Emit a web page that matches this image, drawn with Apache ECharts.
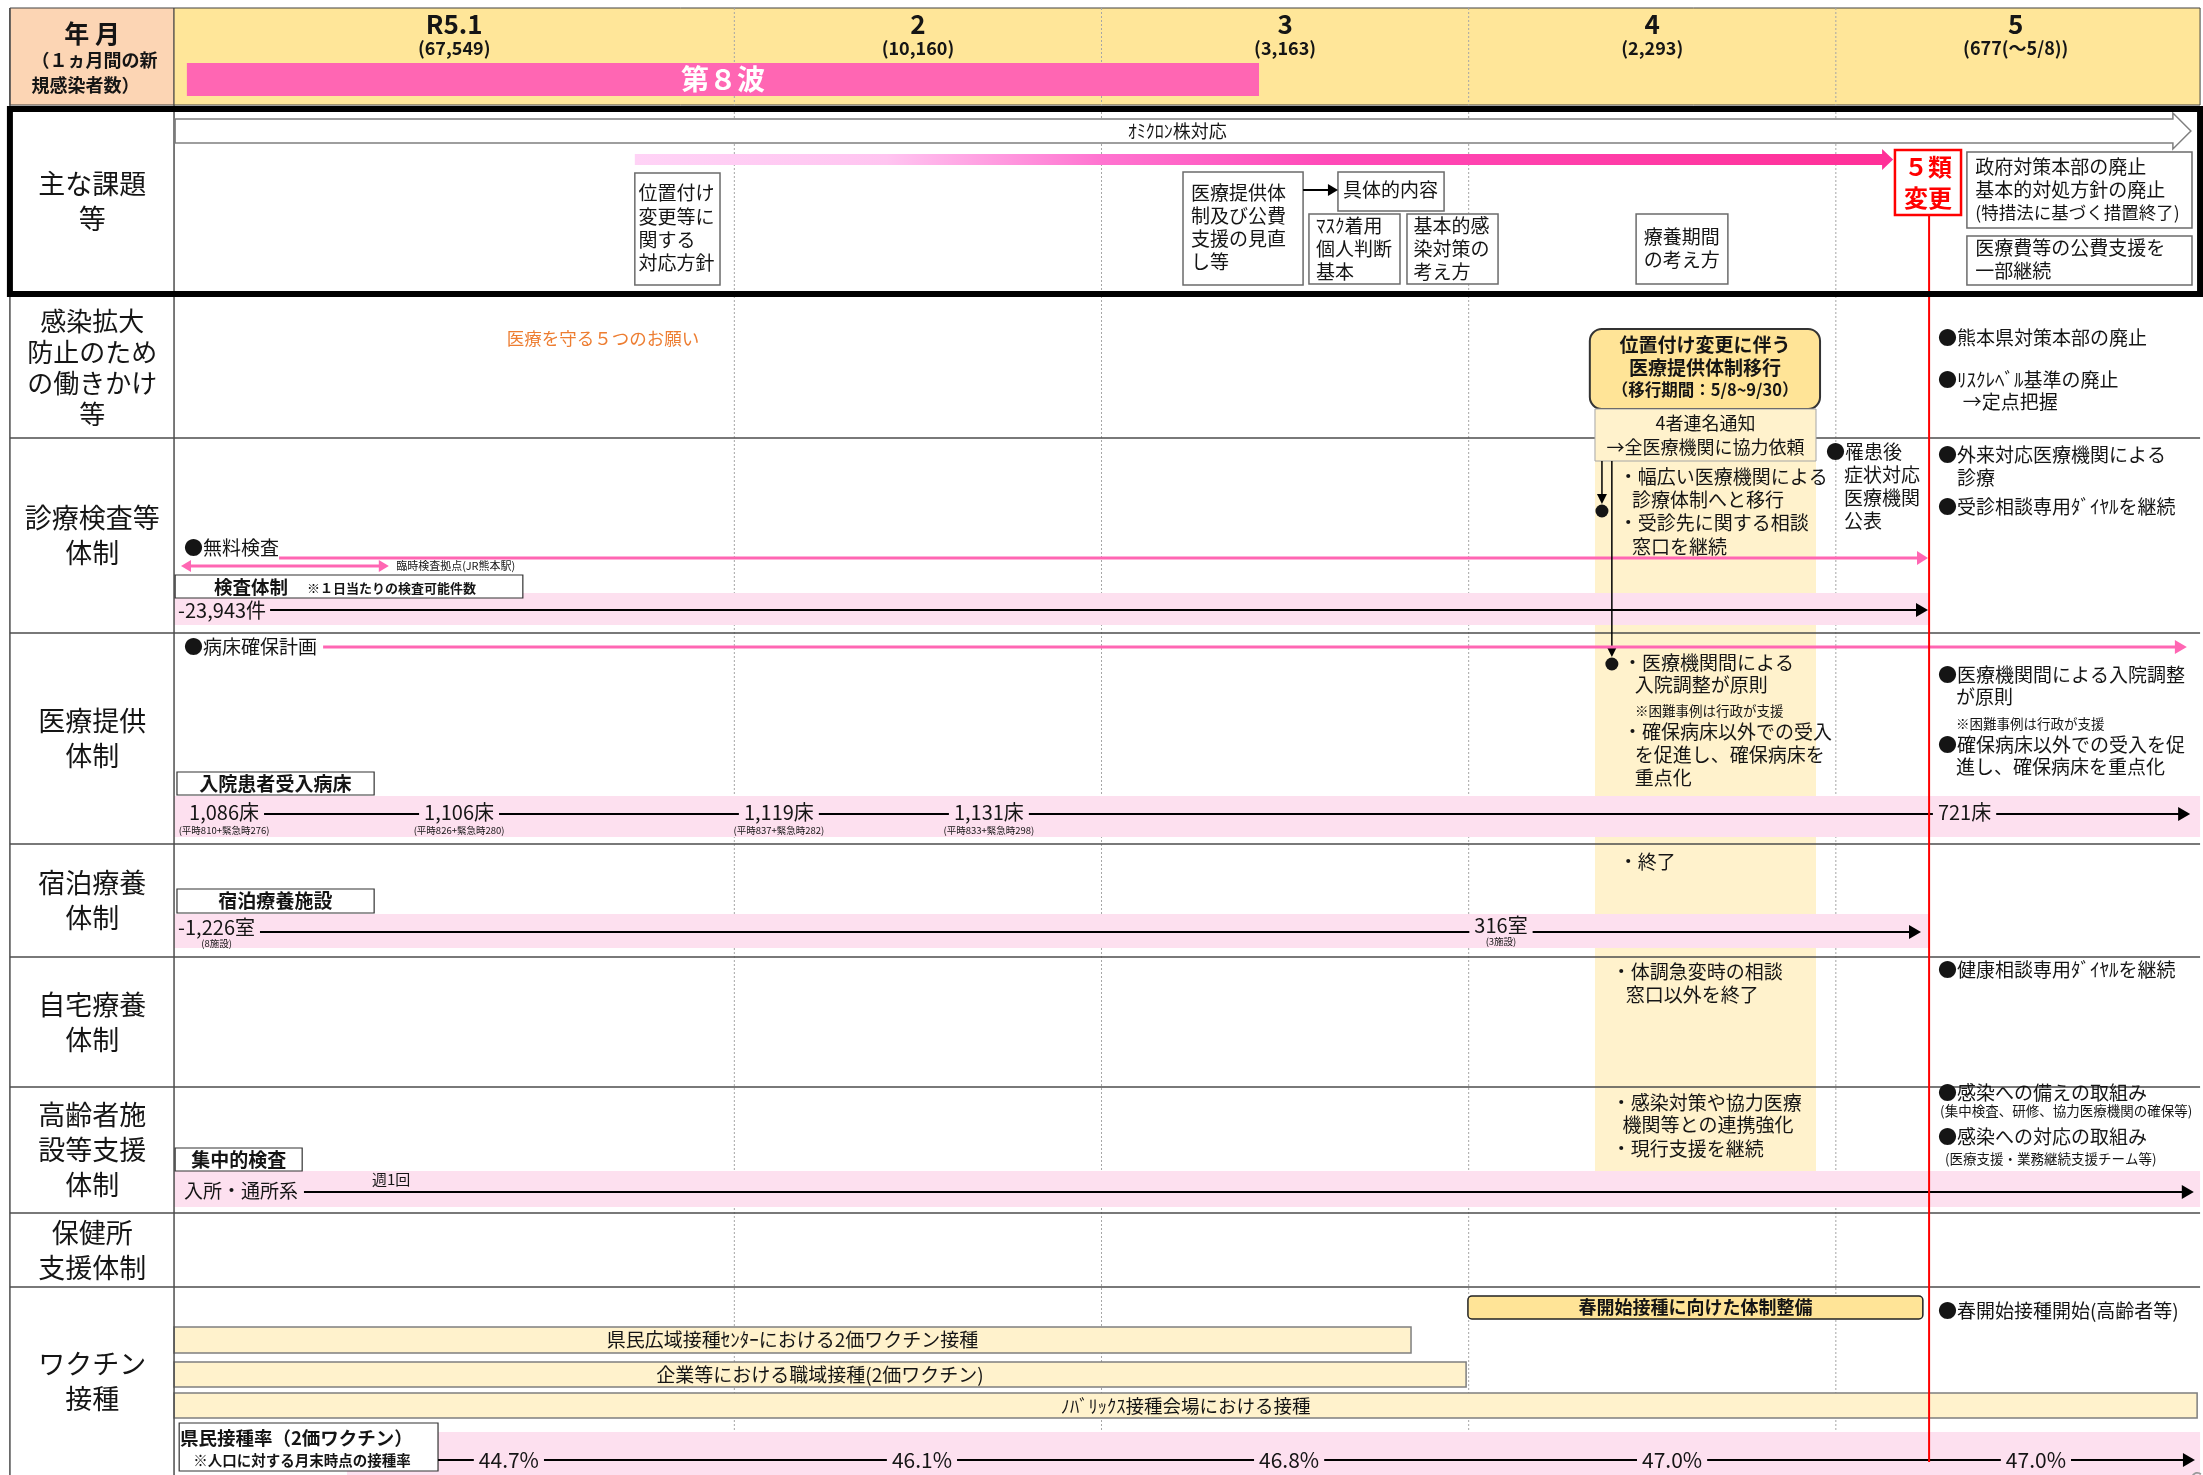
<!DOCTYPE html>
<html><head><meta charset="utf-8">
<script src="https://cdn.jsdelivr.net/npm/echarts/dist/echarts.min.js"></script>
<style>html,body{margin:0;padding:0;background:#fff}#c{width:2203px;height:1475px}</style>
</head><body><div id="c"></div>
<script>
const FONT = '"Noto Sans CJK JP","Noto Sans",sans-serif';
const TXT = '#151515';

// ---------------- data ----------------
const monthLabels = ['R5.1', '2', '3', '4', '5'];
const monthCenters = [1.237, 2.5, 3.5, 4.5, 5.49];
const monthlyNewCases = ['67,549', '10,160', '3,163', '2,293', '677(～5/8)'];
const monthStarts = [2, 3, 4, 5];
const rowLabels = ['主な課題\n等', '感染拡大\n防止のため\nの働きかけ\n等', '診療検査等\n体制', '医療提供\n体制', '宿泊療養\n体制', '自宅療養\n体制', '高齢者施\n設等支援\n体制', '保健所\n支援体制', 'ワクチン\n接種'];
const rowBounds = [106, 297, 438, 633, 844, 957, 1087, 1213, 1287, 1475];
const wave8 = [0.509, 3.429];
const reclassDate = 5.254; // 5/8
const testCapacity = 23943;
const bedDates = [0.515, 1.155, 2.026, 2.598, 5.278];
const bedCounts = [1086, 1106, 1119, 1131, 721];
const bedNormal = [810, 826, 837, 833, null];
const bedEmergency = [276, 280, 282, 298, null];
const roomDates = [0.485, 4.088];
const roomCounts = [1226, 316];
const roomFacilities = [8, 3];
const rateDates = [1.386, 2.511, 3.511, 4.554, 5.545];
const vaccinationRates = [44.7, 46.1, 46.8, 47.0, 47.0];
const vaccineSites = ['県民広域接種ｾﾝﾀｰにおける2価ワクチン接種', '企業等における職域接種(2価ワクチン)', 'ﾉﾊﾞﾘｯｸｽ接種会場における接種'];
const vaccineSiteEnd = [3.843, 3.993, 5.984];
const vaccineRows = [[1327, 1353], [1362, 1387], [1393, 1418]];

const C = {peach:'#FCD5B4', hdr:'#FFE699', wave:'#FF66B3', band:'#FDE0EF', cream:'#FFF2CC', gold:'#FFE497', pink:'#FF66B3', red:'#FF0000', grid:'#4d4d4d', dot:'#A6A6A6', orange:'#ED7D31', box:'#6b6b6b'};
const fmt = n => n.toLocaleString('en-US');

// ---------------- element list ----------------
const items = [];
const add = o => items.push(o);
const rect = (x1,y1,x2,y2,o={}) => add({t:'rect',x1,y1,x2,y2,...o});
const text = (x,y,s,o={}) => add({t:'text',x,y,s,...o});
const line = (pts,o={}) => add({t:'line',pts,...o});
const poly = (pts,o={}) => add({t:'poly',pts,...o});
const dot = (x,y,o={}) => add({t:'dot',x,y,...o});
const vline = o => add({t:'vline',...o});
const B = {bold:1}, CT = {align:'center'}, BC = {bold:1, align:'center'};

// header
rect(0.027,8,0.474,105,{fill:C.peach,stroke:'#404040',lw:1});
rect(0.474,8,5.992,105,{fill:C.hdr,stroke:'#404040',lw:1});
monthStarts.forEach(m => line([[m,8],[m,1475]],{stroke:C.dot,lw:1,dash:[2,2]}));
rect(wave8[0],63,wave8[1],96,{fill:C.wave});
text((wave8[0]+wave8[1])/2,79,'第８波',{size:28,bold:1,color:'#fff',align:'center'});
text(0.251,33,'年 月',{size:25,...BC});
text(0.086,60,'（１ヵ月間の新',{size:18,...B});
text(0.086,85,'規感染者数）',{size:18,...B});
monthLabels.forEach((m,i)=>{
  text(monthCenters[i],24,m,{size:26,...BC});
  text(monthCenters[i],48,'('+monthlyNewCases[i]+')',{size:18,...BC});
});

// bands / bars
rect(4.344,461,4.946,1171,{fill:C.cream});
rect(0.474,593,reclassDate,625,{fill:C.band});
rect(0.474,796,5.992,837,{fill:C.band});
rect(0.474,914,reclassDate,948,{fill:C.band});
rect(0.474,1171,5.992,1207,{fill:C.band});
rect(0.945,1432,5.992,1475,{fill:C.band});
vaccineSites.forEach((s,i)=>{
  rect(0.474,vaccineRows[i][0],vaccineSiteEnd[i],vaccineRows[i][1],{fill:C.cream,stroke:'#7F7F7F',lw:1.5});
  text((0.474+vaccineSiteEnd[i])/2,(vaccineRows[i][0]+vaccineRows[i][1])/2,s,{size:i===2?18.5:19,align:'center'});
});

// grid lines
rowBounds.slice(2,9).forEach(y => line([[0.027,y],[5.992,y]],{stroke:C.grid,lw:1.5}));
line([[0.027,8],[0.027,1475]],{stroke:C.grid,lw:1.5});
line([[0.474,105],[0.474,1475]],{stroke:C.grid,lw:1.5});

// row labels
rowLabels.forEach((lab,i)=>{
  const ls = lab.split('\n'), n = ls.length, lh = n>=4?31:35, size = n>=4?26:27;
  const c = (rowBounds[i]+rowBounds[i+1])/2;
  ls.forEach((s,j)=>text(0.251,c-(n-1)*lh/2+j*lh,s,{size,align:'center'}));
});

// 主な課題等
poly([[0.477,119],[5.918,119],[5.918,113],[5.967,131],[5.918,149],[5.918,143],[0.477,143]],{fill:'#fff',stroke:'#7F7F7F',lw:1.5});
text(3.206,131,'ｵﾐｸﾛﾝ株対応',{size:18,align:'center'});
poly([[1.729,154],[5.126,154],[5.126,149],[5.156,159.5],[5.126,170],[5.126,165],[1.729,165]],
  {grad:[{offset:0,color:'#FFD3F6'},{offset:0.2,color:'#FFC4F0'},{offset:0.37,color:'#FF74D0'},{offset:0.55,color:'#FF4AB8'},{offset:1,color:'#FF2F97'}]});
const boxed = (x1,y1,x2,y2,lines,tx,ty,lh,o={}) => {
  rect(x1,y1,x2,y2,{fill:'#fff',stroke:C.box,lw:1.5});
  lines.forEach((s,j)=>text(tx,ty+j*lh,s,{size:19,...o}));
};
boxed(1.729,173,1.961,285,['位置付け','変更等に','関する','対応方針'],1.739,193,23.3);
boxed(3.222,172,3.549,285,['医療提供体','制及び公費','支援の見直','し等'],3.244,193,23);
boxed(3.644,172,3.933,211,['具体的内容'],3.658,190,23);
line([[3.549,190],[3.644,190]],{stroke:'#000',lw:2,arrowEnd:1,al:10,aw:6});
boxed(3.565,214,3.813,284,['ﾏｽｸ着用','個人判断','基本'],3.584,226,23);
boxed(3.832,214,4.080,284,['基本的感','染対策の','考え方'],3.850,226,23);
boxed(4.456,214,4.706,284,['療養期間','の考え方'],4.477,237,23);
boxed(5.357,152,5.970,228,['政府対策本部の廃止','基本的対処方針の廃止'],5.380,167,23);
text(5.380,212,'(特措法に基づく措置終了)',{size:17.5});
boxed(5.357,236,5.970,285,['医療費等の公費支援を','一部継続'],5.380,248,23);
rect(5.161,150,5.341,215,{fill:'#fff',stroke:C.red,lw:2.5});
text(5.251,167,'５類',{size:24,bold:1,color:C.red,align:'center'});
text(5.251,198,'変更',{size:24,bold:1,color:C.red,align:'center'});

// 感染拡大防止
text(1.642,338,'医療を守る５つのお願い',{size:17.5,color:C.orange,align:'center'});
rect(4.330,329,4.957,409,{fill:C.gold,stroke:'#333',lw:2,r:12});
text(4.644,345,'位置付け変更に伴う',{size:19,...BC});
text(4.644,368,'医療提供体制移行',{size:19,...BC});
text(4.644,390,'（移行期間：5/8~9/30）',{size:16.5,...BC});
rect(4.344,409,4.946,461,{fill:C.cream,stroke:'#A6A6A6',lw:1});
text(4.645,423,'4者連名通知',{size:18,...CT});
text(4.645,447,'→全医療機関に協力依頼',{size:18,...CT});
text(5.278,338,'●熊本県対策本部の廃止');
text(5.278,380,'●ﾘｽｸﾚﾍﾞﾙ基準の廃止');
text(5.346,402,'→定点把握');

// 診療検査等体制
text(0.501,548,'●無料検査');
line([[0.760,558],[5.251,558]],{stroke:C.pink,lw:3,arrowEnd:1,al:11,aw:7});
line([[0.493,566],[1.059,566]],{stroke:C.pink,lw:3,arrowEnd:1,arrowStart:1,al:10,aw:6});
text(1.079,566,'臨時検査拠点(JR熊本駅)',{size:11});
rect(0.477,575,1.424,598,{fill:'#fff',stroke:'#333',lw:1.2});
text(0.583,587,'検査体制',{size:18.5,...B});
text(0.836,588,'※１日当たりの検査可能件数',{size:13,...B});
vline({y:610,gap:4,labels:[{x:0.485,s:'-'+fmt(testCapacity)+'件',size:20}],end:5.251,arrow:1});
line([[4.363,461],[4.363,504]],{stroke:'#000',lw:1.5,arrowEnd:1,al:10,aw:5});
dot(4.363,511,{r:6.5});
line([[4.390,461],[4.390,657]],{stroke:'#000',lw:1.5,arrowEnd:1,al:10,aw:5});
dot(4.390,664,{r:6.5});
text(4.409,477,'・幅広い医療機関による');
text(4.445,500,'診療体制へと移行');
text(4.409,523,'・受診先に関する相談');
text(4.445,547,'窓口を継続');
text(4.973,452,'●罹患後');
['症状対応','医療機関','公表'].forEach((s,j)=>text(5.022,475+j*23,s));
text(5.278,455,'●外来対応医療機関による');
text(5.330,478,'診療');
text(5.278,507,'●受診相談専用ﾀﾞｲﾔﾙを継続');

// 医療提供体制
text(0.501,647,'●病床確保計画');
line([[0.880,647],[5.956,647]],{stroke:C.pink,lw:3,arrowEnd:1,al:12,aw:7});
text(4.420,663,'・医療機関間による');
text(4.452,685,'入院調整が原則');
text(4.453,711,'※困難事例は行政が支援',{size:13.5});
text(4.420,732,'・確保病床以外での受入');
text(4.452,755,'を促進し、確保病床を');
text(4.452,778,'重点化');
text(5.278,675,'●医療機関間による入院調整');
text(5.327,697,'が原則');
text(5.327,724,'※困難事例は行政が支援',{size:13.5});
text(5.278,745,'●確保病床以外での受入を促');
text(5.327,767,'進し、確保病床を重点化');
rect(0.482,772,1.019,795,{fill:'#fff',stroke:'#333',lw:1.2});
text(0.750,783.5,'入院患者受入病床',{size:19,...BC});
vline({y:814,gap:5,end:5.965,arrow:1,labels:bedDates.map((x,i)=>({x,s:fmt(bedCounts[i])+'床',size:20,dy:-2,
  sub:bedNormal[i]!=null?`(平時${bedNormal[i]}+緊急時${bedEmergency[i]})`:null,subDy:18}))});

// 宿泊療養体制
text(4.409,862,'・終了');
rect(0.482,889,1.019,913,{fill:'#fff',stroke:'#333',lw:1.2});
text(0.750,901,'宿泊療養施設',{size:19,...BC});
vline({y:932,gap:5,end:5.232,arrow:1,labels:roomDates.map((x,i)=>({x,align:i?'center':'left',
  s:(i?'':'-')+fmt(roomCounts[i])+'室',size:20,dy:i?-7:-5,sub:`(${roomFacilities[i]}施設)`,subDy:16}))});

// 自宅療養体制
text(4.390,972,'・体調急変時の相談');
text(4.428,995,'窓口以外を終了');
text(5.278,970,'●健康相談専用ﾀﾞｲﾔﾙを継続');

// 高齢者施設等支援体制
text(4.390,1103,'・感染対策や協力医療');
text(4.419,1125,'機関等との連携強化');
text(4.390,1149,'・現行支援を継続');
text(5.278,1093,'●感染への備えの取組み');
text(5.284,1111,'(集中検査、研修、協力医療機関の確保等)',{size:13.5});
text(5.278,1137,'●感染への対応の取組み');
text(5.297,1159,'(医療支援・業務継続支援チーム等)',{size:13.5});
rect(0.477,1148,0.823,1171,{fill:'#fff',stroke:'#333',lw:1.2});
text(0.650,1159.5,'集中的検査',{size:19,...BC});
text(1.013,1179,'週1回',{size:15});
vline({y:1192,gap:6,end:5.975,arrow:1,labels:[{x:0.501,s:'入所・通所系',size:19,dy:-1}]});

// ワクチン接種
rect(3.998,1296,5.237,1319,{fill:C.gold,stroke:'#222',lw:1.5,r:4});
text(4.618,1307.5,'春開始接種に向けた体制整備',{size:18,...BC});
text(5.278,1311,'●春開始接種開始(高齢者等)');
rect(0.488,1423,1.193,1471,{fill:'#fff',stroke:'#333',lw:1.2});
text(0.490,1438,'県民接種率（2価ワクチン）',{size:18.5,...B});
text(0.526,1460,'※人口に対する月末時点の接種率',{size:14.5,...B});
vline({y:1460,gap:5,start:1.193,end:5.978,arrow:1,labels:rateDates.map((x,i)=>({x,align:'center',s:vaccinationRates[i].toFixed(1)+'%',size:21}))});
text(5.963,1480,'6',{size:24,color:'#999'});

// red line for 5類変更 and thick border
line([[reclassDate,215],[reclassDate,1462]],{stroke:C.red,lw:2});
rect(0.027,109,5.992,294,{fill:'none',stroke:'#000',lw:6});

// ---------------- rendering ----------------
const mctx = document.createElement('canvas').getContext('2d');
const fontStr = (size,bold) => `${bold?'bold ':''}${size}px ${FONT}`;
const tw = (s,f) => { mctx.font = f; return mctx.measureText(s).width; };

function arrowHead(from,to,L,W,color){
  const dx=to[0]-from[0], dy=to[1]-from[1], len=Math.hypot(dx,dy)||1, ux=dx/len, uy=dy/len;
  const bx=to[0]-ux*L, by=to[1]-uy*L;
  return {type:'polygon',shape:{points:[[to[0],to[1]],[bx-uy*W,by+ux*W],[bx+uy*W,by-ux*W]]},style:{fill:color}};
}
function lineEls(pts,o){
  const els=[], p=pts.map(q=>q.slice()), L=o.al||12, W=o.aw||6, n=p.length;
  const heads=[];
  const shorten=(a,b)=>{const d=Math.hypot(b[0]-a[0],b[1]-a[1])||1;return [b[0]-(b[0]-a[0])/d*L*0.6,b[1]-(b[1]-a[1])/d*L*0.6];};
  if(o.arrowEnd){heads.push(arrowHead(pts[n-2],pts[n-1],L,W,o.stroke)); p[n-1]=shorten(pts[n-2],pts[n-1]);}
  if(o.arrowStart){heads.push(arrowHead(pts[1],pts[0],L,W,o.stroke)); p[0]=shorten(pts[1],pts[0]);}
  els.push({type:'polyline',shape:{points:p},style:{stroke:o.stroke,lineWidth:o.lw||1,lineDash:o.dash||null,fill:null}});
  return els.concat(heads);
}
function setZ(el,z){ if(el.children) el.children.forEach(c=>setZ(c,z)); else el.z2=z; }

function renderItem(params, api){
  const idx = api.value(2), it = items[idx];
  const P = (x,y) => api.coord([x,y]);
  let el;
  if(it.t==='rect'){
    const a=P(it.x1,it.y1), b=P(it.x2,it.y2);
    el={type:'rect',shape:{x:a[0],y:a[1],width:b[0]-a[0],height:b[1]-a[1],r:it.r||0},
        style:{fill:it.fill||'none',stroke:it.stroke||null,lineWidth:it.lw||0}};
  } else if(it.t==='text'){
    const p=P(it.x,it.y);
    el={type:'text',style:{text:it.s,x:p[0],y:p[1],font:fontStr(it.size||19,it.bold),fill:it.color||TXT,align:it.align||'left',verticalAlign:'middle'}};
  } else if(it.t==='line'){
    el={type:'group',children:lineEls(it.pts.map(q=>P(q[0],q[1])),it)};
  } else if(it.t==='poly'){
    const fill = it.grad ? {type:'linear',x:0,y:0,x2:1,y2:0,colorStops:it.grad} : it.fill;
    el={type:'polygon',shape:{points:it.pts.map(q=>P(q[0],q[1]))},style:{fill,stroke:it.stroke||null,lineWidth:it.lw||0}};
  } else if(it.t==='dot'){
    const p=P(it.x,it.y);
    el={type:'circle',shape:{cx:p[0],cy:p[1],r:it.r||6},style:{fill:it.color||TXT}};
  } else if(it.t==='vline'){
    const ch=[], py=P(0,it.y)[1], gap=it.gap==null?5:it.gap;
    let cursor = it.start!=null ? P(it.start,it.y)[0] : null;
    it.labels.forEach(lb=>{
      const f=fontStr(lb.size||20,lb.bold), w=tw(lb.s,f), cx=P(lb.x,it.y)[0];
      const left = lb.align==='center' ? cx-w/2 : cx;
      if(cursor!=null && left-gap>cursor) ch.push(...lineEls([[cursor,py],[left-gap,py]],{stroke:'#000',lw:2}));
      ch.push({type:'text',style:{text:lb.s,x:left,y:py+(lb.dy||0),font:f,fill:TXT,align:'left',verticalAlign:'middle'}});
      if(lb.sub) ch.push({type:'text',style:{text:lb.sub,x:left+w/2,y:py+(lb.dy||0)+(lb.subDy||17),font:fontStr(9.5),fill:TXT,align:'center',verticalAlign:'middle'}});
      cursor = left+w+gap;
    });
    const ex=P(it.end,it.y)[0];
    ch.push(...lineEls([[cursor,py],[ex,py]],{stroke:'#000',lw:2,arrowEnd:it.arrow,al:12,aw:7}));
    el={type:'group',children:ch};
  }
  setZ(el, idx);
  return el;
}

const chart = echarts.init(document.getElementById('c'), null, {renderer:'canvas'});
chart.setOption({
  animation:false,
  backgroundColor:'#fff',
  grid:{left:0,right:0,top:0,bottom:0},
  xAxis:{type:'value',min:0,max:6,show:false},
  yAxis:{type:'value',min:0,max:1475,inverse:true,show:false},
  series:[{
    type:'custom', clip:false, renderItem,
    encode:{x:0,y:1},
    data: items.map((it,i)=>[it.x!=null?it.x:(it.x1!=null?it.x1:0), it.y!=null?it.y:(it.y1!=null?it.y1:0), i])
  }]
});
</script></body></html>
